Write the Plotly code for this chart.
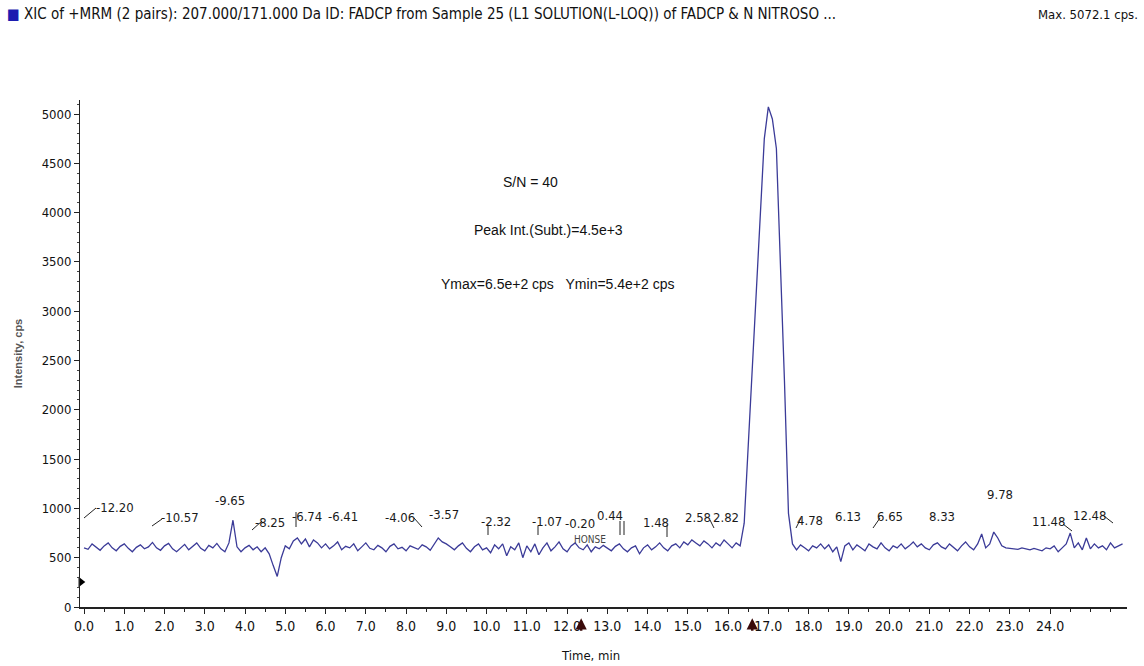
import plotly.graph_objects as go

# ---------------- data ----------------
intensity = [
    # 0.0 - 0.9
    600, 585, 640, 610, 575, 620, 650, 600, 570, 615,
    # 1.0 - 1.9
    640, 595, 560, 605, 630, 590, 610, 655, 600, 575,
    # 2.0 - 2.9
    620, 645, 590, 560, 600, 635, 580, 615, 650, 595,
    # 3.0 - 3.9
    570, 625, 600, 645, 590, 560, 650, 880, 610, 560,
    # 4.0 - 4.9
    600, 625, 580, 610, 560, 600, 540, 420, 310, 500,
    # 5.0 - 5.9
    620, 590, 670, 700, 640, 690, 610, 680, 650, 600,
    # 6.0 - 6.9
    640, 590, 620, 660, 580, 615, 600, 640, 570, 610,
    # 7.0 - 7.9
    650, 595, 580, 625, 600, 560, 615, 640, 590, 605,
    # 8.0 - 8.9
    570, 620, 600, 585, 630, 610, 575, 640, 700, 660,
    # 9.0 - 9.9
    640, 610, 580, 620, 650, 595, 560, 610, 640, 580,
    # 10.0 - 10.9
    600, 550, 630, 590, 640, 520, 610, 580, 650, 500,
    # 11.0 - 11.9
    620, 560, 640, 530, 600, 650, 570, 610, 660, 590,
    # 12.0 - 12.9
    560, 620, 650, 600, 580, 630, 560, 610, 590, 625,
    # 13.0 - 13.9
    600, 570, 615, 640, 590, 560, 600, 620, 540, 600,
    # 14.0 - 14.9
    630, 580, 610, 650, 600, 570, 620, 640, 600, 660,
    # 15.0 - 15.9
    630, 680, 650, 620, 670, 640, 600, 650, 620, 680,
    # 16.0 - 16.9
    640, 600, 650, 620, 850, 1650, 2450, 3250, 4050, 4750,
    # 17.0 - 17.9
    5072.1, 4950, 4650, 3500, 2300, 950, 640, 580, 630, 600,
    # 18.0 - 18.9
    570, 620, 600, 640, 590, 630, 560, 610, 460, 620,
    # 19.0 - 19.9
    650, 580, 630, 600, 570, 640, 610, 590, 650, 600,
    # 20.0 - 20.9
    570, 620, 600, 640, 590, 620, 660, 610, 640, 600,
    # 21.0 - 21.9
    580, 630, 650, 610, 590, 640, 600, 570, 620, 660,
    # 22.0 - 22.9
    610, 580, 640, 740, 600, 640, 760, 700, 620, 600,
    # 23.0 - 23.9
    595, 590, 585, 600, 590, 580, 595, 585, 570, 600,
    # 24.0 - 24.9
    590, 620, 560, 600, 640, 750, 600, 650, 580, 700,
    # 25.0 - 25.8
    590, 640, 600, 620, 580, 650, 600, 620, 640,
]
sample_step_min = 0.1
time_min = [round(i * sample_step_min, 1) for i in range(len(intensity))]

x_tick_values = list(range(0, 25))
x_tick_labels = [f"{v:.1f}" for v in x_tick_values]
y_tick_values = [0, 500, 1000, 1500, 2000, 2500, 3000, 3500, 4000, 4500, 5000]
y_tick_labels = [str(v) for v in y_tick_values]

peak_labels = ["-12.20", "-10.57", "-9.65", "-8.25", "-6.74", "-6.41", "-4.06",
               "-3.57", "-2.32", "-1.07", "-0.20", "0.44", "1.48", "2.58",
               "2.82", "4.78", "6.13", "6.65", "8.33", "9.78", "11.48", "12.48"]
peak_label_t = [0.77, 2.39, 3.63, 4.62, 5.54, 6.43, 7.85, 8.94, 10.24, 11.50,
                12.32, 13.07, 14.21, 15.26, 15.95, 18.04, 18.98, 20.02, 21.32,
                22.76, 23.95, 24.99]
peak_label_y = [1014, 903, 1085, 862, 913, 913, 903, 943, 872, 872, 842, 933,
                862, 903, 903, 882, 913, 913, 913, 1146, 872, 933]

rt_arrows_t = [12.35, 16.6]
marker_t, marker_y = -0.08, 254

title_text = ("XIC of +MRM (2 pairs): 207.000/171.000 Da ID: FADCP from Sample 25 "
              "(L1 SOLUTION(L-LOQ)) of FADCP &amp; N NITROSO ...")
max_text = "Max. 5072.1 cps."
info_lines = ["S/N = 40", "Peak Int.(Subt.)=4.5e+3",
              "Ymax=6.5e+2 cps&nbsp;&nbsp;&nbsp;Ymin=5.4e+2 cps"]

# label leader ticks (page pixels: x0, y0, x1, y1)
leaders_px = [(84, 518, 96, 508), (152, 526, 162, 519), (252, 530, 262, 521),
              (296, 512, 296, 527), (414, 518, 422, 527), (488, 526, 488, 535),
              (538, 526, 538, 535), (620, 521, 620, 535), (624, 521, 624, 535),
              (667, 525, 667, 537), (710, 520, 714, 528), (796, 528, 801, 518),
              (873, 528, 880, 518), (1063, 524, 1072, 531), (1104, 516, 1113, 523)]

# ---------------- figure ----------------
NARROW = "DejaVu Sans Condensed, Liberation Sans Narrow, DejaVu Sans, sans-serif"
LINE_COLOR = "#3b3b98"

def px_to_paper(px, py):
    return (px - 80) / 1047, (607 - py) / 507

fig = go.Figure()
fig.add_trace(go.Scatter(x=time_min, y=intensity, mode="lines",
                         line=dict(color=LINE_COLOR, width=1.3),
                         showlegend=False, hoverinfo="skip"))
fig.add_trace(go.Scatter(x=[marker_t], y=[marker_y], mode="markers",
                         marker=dict(symbol="triangle-right", size=9, color="black"),
                         showlegend=False, cliponaxis=False, hoverinfo="skip"))

annotations = []
for txt, t, y in zip(peak_labels, peak_label_t, peak_label_y):
    annotations.append(dict(x=t, y=y, xref="x", yref="y", text=txt, showarrow=False,
                            font=dict(family=NARROW, size=13, color="#1a1a1a")))
annotations.append(dict(x=12.57, y=680, xref="x", yref="y", text="HONSE", showarrow=False,
                        font=dict(family=NARROW, size=10, color="#444444")))

info_pos = [(530, 182), (548, 230), (557, 284)]
for txt, (px, py) in zip(info_lines, info_pos):
    xp, yp = px_to_paper(px, py)
    annotations.append(dict(x=xp, y=yp, xref="paper", yref="paper",
                            text=txt, showarrow=False, xanchor="center", yanchor="middle",
                            font=dict(family="Liberation Sans, Arial, sans-serif", size=14,
                                      color="#111111")))

xp, yp = px_to_paper(5, 14)
annotations.append(dict(x=xp, y=yp, xref="paper", yref="paper",
                        text='<span style="color:#1c1cb0;font-size:15px">■</span> ' + title_text,
                        showarrow=False, xanchor="left", yanchor="middle",
                        font=dict(family=NARROW, size=15, color="#111111")))
xp, yp = px_to_paper(1140, 14)
annotations.append(dict(x=xp, y=yp, xref="paper", yref="paper",
                        text=max_text, showarrow=False, xanchor="right", yanchor="middle",
                        font=dict(family=NARROW, size=13, color="#111111")))
xp, yp = px_to_paper(590, 655)
annotations.append(dict(x=xp, y=yp, xref="paper", yref="paper", text="Time, min",
                        showarrow=False, xanchor="center", yanchor="middle",
                        font=dict(family=NARROW, size=13, color="#111111")))

for t in rt_arrows_t:
    annotations.append(dict(x=t, y=-0.022, xref="x", yref="paper", text="", showarrow=True,
                            arrowhead=2, arrowsize=0.9, arrowwidth=2.5, arrowcolor="#3a0a0a",
                            ax=0, ay=14))

shapes = []
for x0, y0, x1, y1 in leaders_px:
    a0, b0 = px_to_paper(x0, y0)
    a1, b1 = px_to_paper(x1, y1)
    shapes.append(dict(type="line", xref="paper", yref="paper", x0=a0, y0=b0, x1=a1, y1=b1,
                       line=dict(color="#222222", width=1)))

fig.update_layout(
    width=1144, height=666,
    margin=dict(l=80, r=17, t=100, b=59),
    paper_bgcolor="white", plot_bgcolor="white",
    annotations=annotations,
    shapes=shapes,
    xaxis=dict(range=[-0.1, 25.91], tickmode="array", tickvals=x_tick_values,
               ticktext=x_tick_labels, ticks="outside", ticklen=5, tickwidth=1,
               tickcolor="#222222", showline=True, linecolor="#222222", linewidth=2,
               showgrid=False, zeroline=False,
               minor=dict(dtick=0.5, ticks="outside", ticklen=3, tickcolor="#222222"),
               tickfont=dict(family=NARROW, size=14, color="#111111")),
    yaxis=dict(range=[0, 5142], tickmode="array", tickvals=y_tick_values,
               ticktext=y_tick_labels, ticks="outside", ticklen=5, tickwidth=1,
               tickcolor="#222222", showline=True, linecolor="#222222", linewidth=1,
               showgrid=False, zeroline=False,
               minor=dict(dtick=100, ticks="outside", ticklen=2, tickcolor="#444444"),
               tickfont=dict(family=NARROW, size=13, color="#111111"),
               title=dict(text="<b>Intensity, cps</b>", standoff=16,
                          font=dict(family="Liberation Sans, Arial, sans-serif", size=11,
                                    color="#555555"))),
)

fig.write_html("out.html")
